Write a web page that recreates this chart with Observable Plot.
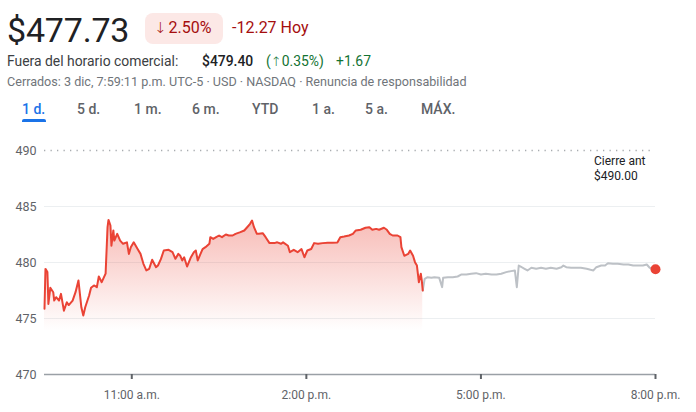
<!DOCTYPE html>
<html>
<head>
<meta charset="utf-8">
<script src="https://cdn.jsdelivr.net/npm/d3@7"></script>
<script src="https://cdn.jsdelivr.net/npm/@observablehq/plot@0.6"></script>
<style>
  html, body { margin: 0; padding: 0; background: #fff; }
  body { width: 696px; height: 412px; overflow: hidden; font-family: Roboto, Arial, sans-serif; position: relative; }
  .abs { position: absolute; white-space: nowrap; }
  .arr { font-family: "DejaVu Sans", sans-serif; font-weight: 300; }
  #price { left: 7px; top: 10px; font-size: 34px; color: #202124; letter-spacing: -0.2px; }
  #badge { left: 145px; top: 13px; width: 78px; height: 31px; background: #fce8e6; border-radius: 8px; }
  #pct { left: 154px; top: 18px; font-size: 16px; color: #a50e0e; }
  #pct .arr { font-size: 15px; margin-right: 2px; }
  #chg { left: 232px; top: 18px; font-size: 16px; color: #a50e0e; }
  .ah { top: 53px; font-size: 13.9px; color: #3c4043; }
  .ah.v { color: #202124; font-weight: 500; }
  .ah.g { color: #137333; }
  .ah .arr { font-size: 13px; }
  #meta { left: 7px; top: 74px; font-size: 12.6px; color: #70757a; }
  .tab { top: 101px; font-size: 14px; color: #5f6368; font-weight: 500; }
  .tab.on { color: #1a73e8; }
  #uline { left: 22px; top: 119px; width: 24px; height: 3px; background: #1a73e8; border-radius: 2px 2px 0 0; }
  #chart { position: absolute; left: 0; top: 130px; }
  #prev { left: 594px; top: 154px; font-size: 12px; color: #202124; line-height: 15px; }
</style>
</head>
<body>
<div class="abs" id="price">$477.73</div>
<div class="abs" id="badge"></div>
<div class="abs" id="pct"><span class="arr">↓</span>2.50%</div>
<div class="abs" id="chg">-12.27 Hoy</div>
<div class="abs ah" style="left:7px">Fuera del horario comercial:</div>
<div class="abs ah v" style="left:202px">$479.40</div>
<div class="abs ah g" style="left:266px">(<span class="arr">↑</span>0.35%)</div>
<div class="abs ah g" style="left:336px">+1.67</div>
<div class="abs" id="meta">Cerrados: 3 dic, 7:59:11 p.m. UTC-5 · USD · NASDAQ · Renuncia de responsabilidad</div>
<div id="tabs"></div>
<div class="abs" id="uline"></div>
<div id="chart"></div>
<div class="abs" id="prev">Cierre ant<br>$490.00</div>
<script>
const tabLabels = ["1 d.", "5 d.", "1 m.", "6 m.", "YTD", "1 a.", "5 a.", "MÁX."];
const tabLeft = [22, 77, 134, 192, 252, 312, 365, 421];

const previousClose = 490;
const yTicks = [470, 475, 480, 485, 490];
const xTickTimes = ["11:00", "14:00", "17:00", "20:00"];
const xTickLabels = ["11:00 a.m.", "2:00 p.m.", "5:00 p.m.", "8:00 p.m."];

const sessionTimes = ["9:30","9:31","9:33","9:34","9:36","9:39","9:40","9:42","9:45","9:47","9:50","9:53","9:55","9:59","10:02","10:05","10:08","10:10","10:12","10:16","10:18","10:21","10:24","10:26","10:29","10:31","10:33","10:35","10:36","10:38","10:39","10:41","10:42","10:45","10:48","10:51","10:55","10:57","10:59","11:02","11:06","11:09","11:12","11:15","11:18","11:21","11:25","11:27","11:30","11:33","11:38","11:42","11:45","11:48","11:50","11:52","11:54","11:57","12:01","12:04","12:06","12:08","12:10","12:13","12:16","12:20","12:21","12:24","12:27","12:30","12:33","12:37","12:40","12:44","12:47","12:52","12:56","12:59","13:02","13:04","13:06","13:09","13:11","13:15","13:18","13:22","13:27","13:30","13:34","13:36","13:41","13:43","13:47","13:51","13:55","13:58","14:01","14:05","14:08","14:12","14:17","14:22","14:27","14:32","14:35","14:39","14:44","14:48","14:51","14:56","15:01","15:05","15:08","15:12","15:15","15:20","15:23","15:26","15:29","15:34","15:37","15:38","15:41","15:45","15:47","15:50","15:52","15:54","15:56","15:58","15:59","16:00"];
const sessionPrices = [475.87,479.43,479.14,476.3,477.74,477.35,476.6,476.9,476.6,477.2,475.7,476.45,476.2,476.6,477.35,478.4,476.0,475.27,476.0,477.05,477.74,477.95,477.8,478.75,478.24,478.63,479.0,483.15,483.8,483.3,481.5,482.86,481.96,482.56,481.96,481.67,481.8,480.77,481.37,481.8,481.2,480.77,479.88,479.29,479.44,480.24,479.58,479.73,480.3,481.07,481.13,480.92,480.33,480.77,480.6,480.18,480.47,479.64,480.47,480.92,481.07,480.18,480.6,481.2,481.37,481.67,482.26,482.11,482.26,482.41,482.26,482.5,482.41,482.41,482.56,482.71,482.86,483.15,483.45,483.75,483.15,482.56,482.56,482.62,482.26,481.73,481.73,481.8,481.67,481.8,481.5,480.92,481.13,480.92,481.2,480.47,481.07,481.2,481.73,481.67,481.73,481.76,481.76,481.79,482.26,482.32,482.41,482.56,482.86,482.92,483.1,483.15,482.92,483.0,482.92,483.1,482.92,482.56,482.41,482.41,482.26,481.37,480.6,480.77,481.07,480.6,480.03,479.73,478.24,479.0,478.4,477.5];

const afterTimes = ["16:00","16:02","16:05","16:09","16:12","16:17","16:20","16:21","16:26","16:31","16:36","16:40","16:45","16:50","16:55","17:00","17:05","17:11","17:16","17:21","17:26","17:31","17:35","17:37","17:39","17:42","17:45","17:48","17:52","17:57","18:02","18:07","18:12","18:18","18:23","18:25","18:28","18:33","18:38","18:43","18:49","18:53","18:56","18:59","19:04","19:08","19:11","19:16","19:21","19:27","19:32","19:37","19:42","19:47","19:51","19:54","19:59","20:00"];
const afterPrices = [477.5,478.54,478.69,478.63,478.69,478.63,477.8,478.63,478.69,478.69,478.75,478.93,478.93,479.0,479.05,478.93,479.0,478.93,478.93,479.0,479.14,479.23,479.29,477.8,479.73,479.58,479.44,479.29,479.53,479.44,479.53,479.44,479.53,479.44,479.58,479.73,479.58,479.53,479.53,479.53,479.44,479.35,479.29,479.58,479.73,479.73,479.94,479.88,479.88,479.82,479.82,479.73,479.73,479.73,479.82,479.53,479.44,479.4];

const lastTime = "20:00";
const lastPrice = 479.4;

// tabs
const tabs = document.getElementById("tabs");
tabLabels.forEach((t, i) => {
  const d = document.createElement("div");
  d.className = "abs tab" + (i === 0 ? " on" : "");
  d.style.left = tabLeft[i] + "px";
  d.textContent = t;
  tabs.appendChild(d);
});

const toDate = s => { const [h, m] = s.split(":").map(Number); return new Date(2024, 11, 3, h, m); };
const session = sessionTimes.map((t, i) => ({t: toDate(t), p: sessionPrices[i]}));
const after = afterTimes.map((t, i) => ({t: toDate(t), p: afterPrices[i]}));
const xTicks = xTickTimes.map(toDate);
const labelOf = new Map(xTicks.map((d, i) => [+d, xTickLabels[i]]));

const chart = Plot.plot({
  width: 696,
  height: 282,
  marginLeft: 44,
  marginRight: 41,
  marginTop: 20,
  marginBottom: 38,
  style: {fontFamily: "Roboto, Arial, sans-serif", fontSize: "12px", color: "#5f6368", background: "transparent"},
  x: {type: "time", domain: [toDate("9:30"), toDate("20:00")], label: null},
  y: {domain: [470, 490], label: null},
  marks: [
    Plot.ruleY(yTicks.filter(v => v > 470 && v < previousClose), {stroke: "#eceff1", strokeWidth: 1}),
    Plot.ruleY([previousClose], {stroke: "#a8acb0", strokeWidth: 1.3, strokeDasharray: "1.3,5.2"}),
    Plot.areaY(session, {x: "t", y1: 470, y2: "p", fill: "url(#redfade)", curve: "linear"}),
    Plot.ruleY([470], {stroke: "#9aa0a6", strokeWidth: 1.3}),
    Plot.line(after, {x: "t", y: "p", stroke: "#bdc1c6", strokeWidth: 2}),
    Plot.line(session, {x: "t", y: "p", stroke: "#ea4335", strokeWidth: 2}),
    Plot.dot([{t: toDate(lastTime), p: lastPrice}], {x: "t", y: "p", r: 5, fill: "#ea4335", stroke: "none"}),
    Plot.axisY({ticks: yTicks, tickSize: 0, tickPadding: 8, fill: "#5f6368", fontSize: 12.5, label: null}),
    Plot.axisX({ticks: xTicks, tickSize: 5, tickPadding: 11, stroke: "#5f6368", strokeWidth: 2, fill: "#5f6368", fontSize: 12, label: null, tickFormat: d => labelOf.get(+d)})
  ]
});

// gradient definition for the fill under the regular-session line
const ns = "http://www.w3.org/2000/svg";
const defs = document.createElementNS(ns, "defs");
const grad = document.createElementNS(ns, "linearGradient");
grad.setAttribute("id", "redfade");
grad.setAttribute("x1", "0"); grad.setAttribute("y1", "0");
grad.setAttribute("x2", "0"); grad.setAttribute("y2", "1");
[["0", 0.36], ["0.72", 0]].forEach(([o, a]) => {
  const s = document.createElementNS(ns, "stop");
  s.setAttribute("offset", o);
  s.setAttribute("stop-color", "#ea4335");
  s.setAttribute("stop-opacity", a);
  grad.appendChild(s);
});
defs.appendChild(grad);
chart.insertBefore(defs, chart.firstChild);
document.getElementById("chart").appendChild(chart);
</script>
</body>
</html>
